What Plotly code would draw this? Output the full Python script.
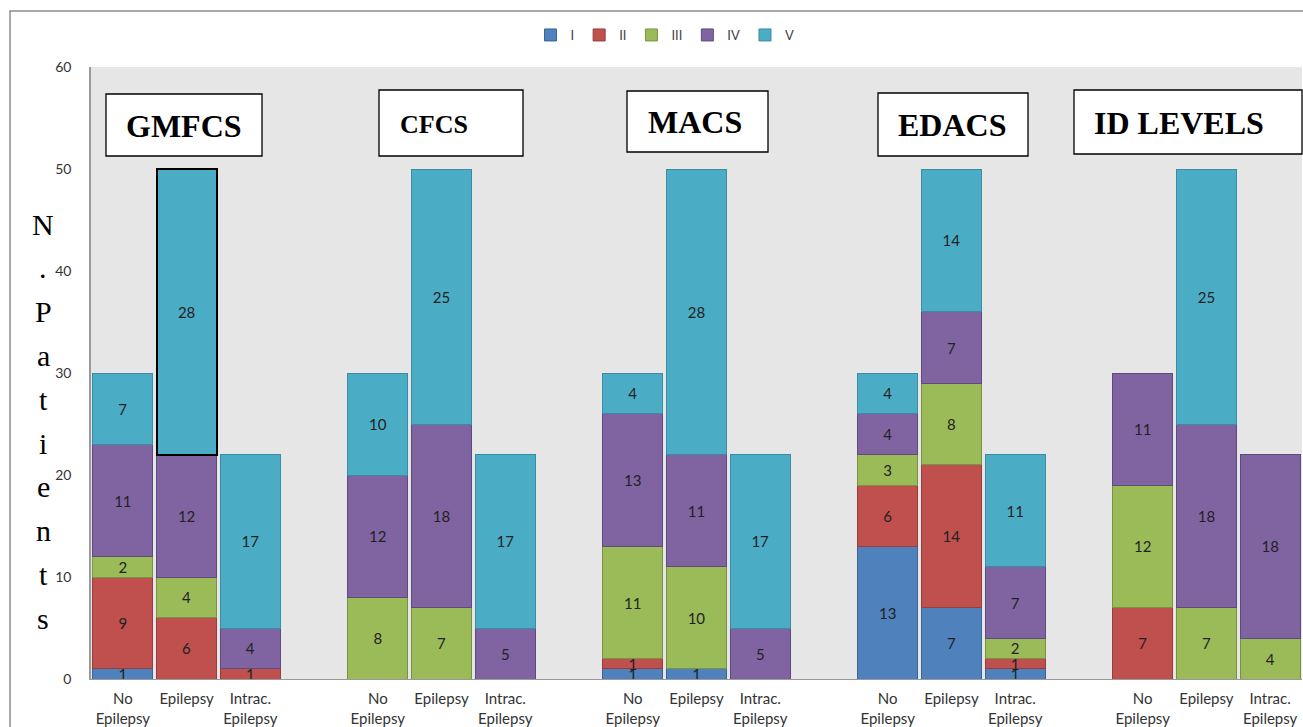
import plotly.graph_objects as go

# ---------------- data ----------------
groups = ["GMFCS", "CFCS", "MACS", "EDACS", "ID LEVELS"]
subcats = ["No<br>Epilepsy", "Epilepsy", "Intrac.<br>Epilepsy"]
levels = ["I", "II", "III", "IV", "V"]

# values per level: for each group -> [No Epilepsy, Epilepsy, Intrac. Epilepsy]
lvl_I = [[1, 0, 0], [0, 0, 0], [1, 1, 0], [13, 7, 1], [0, 0, 0]]
lvl_II = [[9, 6, 1], [0, 0, 0], [1, 0, 0], [6, 14, 1], [7, 0, 0]]
lvl_III = [[2, 4, 0], [8, 7, 0], [11, 10, 0], [3, 8, 2], [12, 7, 4]]
lvl_IV = [[11, 12, 4], [12, 18, 5], [13, 11, 5], [4, 7, 7], [11, 18, 18]]
lvl_V = [[7, 28, 17], [10, 25, 17], [4, 28, 17], [4, 14, 11], [0, 25, 0]]
series = [lvl_I, lvl_II, lvl_III, lvl_IV, lvl_V]

y_ticks = [0, 10, 20, 30, 40, 50, 60]

# ---------------- styles ----------------
fills = ["#4F81BD", "#C0504D", "#9BBB59", "#8064A2", "#4BACC6"]
edges = ["#3B6598", "#9A3C39", "#769443", "#5E4A7C", "#3A8CA4"]

W, H = 1303, 727
L, R, T, B = 91, 1, 67, 48
PW, PH = W - L - R, H - T - B


def px(x):
    return (x - L) / PW


def py(y):
    return (H - B - y) / PH


SLOTS_PER_GROUP = len(subcats) + 1
xs, xlabels = [], []
for g in range(len(groups)):
    for b in range(len(subcats)):
        xs.append(g * SLOTS_PER_GROUP + b)
        xlabels.append(subcats[b])

fig = go.Figure()
for li, (name, vals) in enumerate(zip(levels, series)):
    raw = [v for grp in vals for v in grp]
    ys = [v if v else None for v in raw]
    txt = [str(v) if v else "" for v in raw]
    lc = [edges[li]] * len(ys)
    lw = [1] * len(ys)
    if name == "V":
        # highlighted segment (GMFCS, Epilepsy)
        lc[1] = "#000000"
        lw[1] = 2
    fig.add_trace(go.Bar(
        x=xs, y=ys, name=name, text=txt,
        textposition="inside", insidetextanchor="middle",
        constraintext="none", textangle=0,
        textfont=dict(family="Lato, Open Sans, sans-serif", size=15, color="#222222"),
        marker=dict(color=fills[li], line=dict(color=lc, width=lw)),
        hoverinfo="x+y+name",
    ))

fig.update_layout(
    width=W, height=H,
    margin=dict(l=L, r=R, t=T, b=B),
    barmode="stack", bargap=0.06,
    paper_bgcolor="white", plot_bgcolor="#E6E6E6",
    font=dict(family="Lato, Open Sans, sans-serif", color="#333333"),
    showlegend=True,
    legend=dict(orientation="h", x=px(665), xanchor="center", y=py(35), yanchor="middle",
                font=dict(size=13, color="#444444"), itemwidth=30, traceorder="normal",
                bgcolor="rgba(0,0,0,0)"),
    xaxis=dict(range=[-0.5, xs[-1] + 0.5], tickmode="array", tickvals=xs, ticktext=xlabels,
               showgrid=False, zeroline=False, showline=True, linecolor="#9a9a9a", linewidth=1,
               ticks="", ticklabelstandoff=6, tickfont=dict(size=15, color="#333333"),
               fixedrange=True),
    yaxis=dict(range=[0, 60], tickmode="array", tickvals=y_ticks, showgrid=False,
               zeroline=False, showline=True, linecolor="#9a9a9a", linewidth=1.5,
               ticks="", ticklabelstandoff=15, tickfont=dict(size=14, color="#333333"),
               fixedrange=True),
)

# outer chart border
fig.add_shape(type="rect", xref="paper", yref="paper",
              x0=px(10), x1=px(1310), y0=py(740), y1=py(11),
              line=dict(color="#8c8c8c", width=1.5), fillcolor="rgba(0,0,0,0)", layer="below")

# group title boxes
boxes = [  # (x0, x1, y0, y1) in pixels, text centre x, y, font size
    ("GMFCS", 106, 262, 94, 156, 184, 126, 32),
    ("CFCS", 379, 523, 90, 156, 434, 124, 26),
    ("MACS", 627, 768, 91, 152, 695, 122, 32),
    ("EDACS", 878, 1028, 93, 156, 952, 125, 32),
    ("ID LEVELS", 1074, 1302, 90, 154, 1179, 123, 32),
]
for name, x0, x1, y0, y1, cx, cy, fs in boxes:
    fig.add_shape(type="rect", xref="paper", yref="paper",
                  x0=px(x0), x1=px(x1), y0=py(y1), y1=py(y0),
                  line=dict(color="#000000", width=1.3), fillcolor="white", layer="above")
    fig.add_annotation(xref="paper", yref="paper", x=px(cx), y=py(cy),
                       xanchor="center", yanchor="middle", showarrow=False,
                       text="<b>%s</b>" % name,
                       font=dict(family="Liberation Serif, Times New Roman, serif", size=fs,
                                 color="#000000"))

# vertical stacked y-axis title
ytitle = "N.Patients"
for i, ch in enumerate(ytitle):
    fig.add_annotation(xref="paper", yref="paper", x=px(43), y=py(224 + i * 43.8),
                       xanchor="center", yanchor="middle", showarrow=False, text=ch,
                       font=dict(family="Liberation Serif, Times New Roman, serif", size=30,
                                 color="#000000"))

fig.write_html("out.html")
